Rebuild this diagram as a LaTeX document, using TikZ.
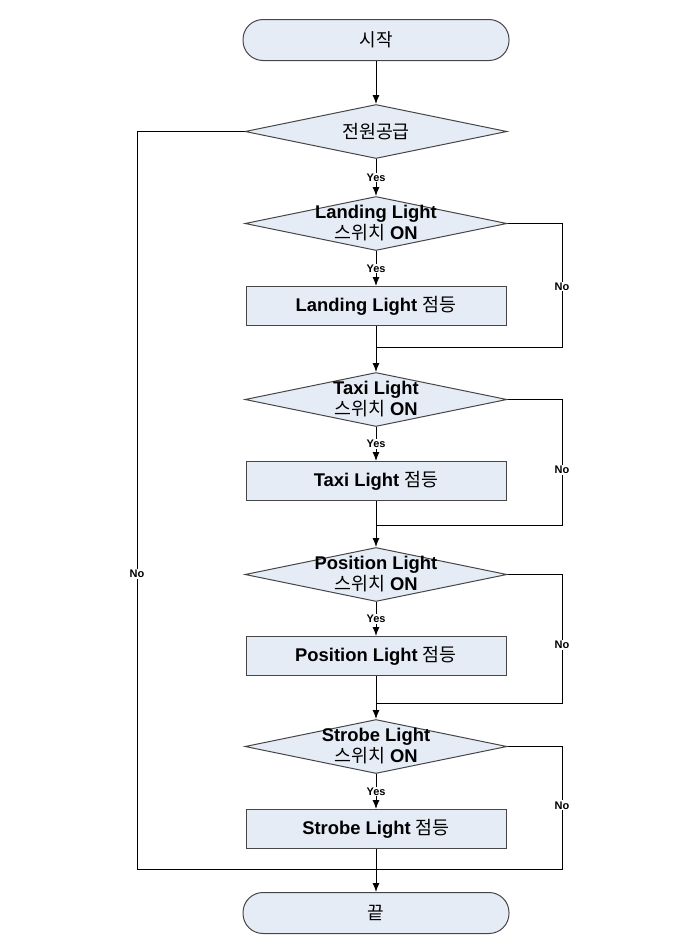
\documentclass[tikz,border=0pt]{standalone}
\usepackage{fontspec}
\setmainfont{Liberation Sans}
\newfontfamily\kr{Noto Sans CJK KR}
\usepackage{tikz}
\usetikzlibrary{positioning}
\usetikzlibrary{shapes,arrows.meta}
\definecolor{boxfill}{RGB}{230,236,246}
\definecolor{boxline}{RGB}{70,70,70}
\newcommand{\ko}[1]{{\kr\mdseries #1}}
\tikzstyle{terminal} = [rectangle, draw=boxline, fill=boxfill, 
    rounded corners=20pt, minimum width=266pt, minimum height=41pt, font=\kr\fontsize{18}{20}\selectfont]
\tikzstyle{decision} = [diamond, draw=boxline, fill=boxfill, 
    minimum width=262pt, minimum height=54pt, inner sep=0pt]
\tikzstyle{dtext} = [align=center, font=\bfseries\fontsize{18.4}{21}\selectfont]
\tikzstyle{block} = [rectangle, draw=boxline, fill=boxfill, 
    minimum width=260pt, minimum height=39pt, font=\bfseries\fontsize{18.4}{20}\selectfont]
\tikzstyle{line} = [draw, -{Latex[length=9pt,width=7pt]}]
\tikzstyle{loop} = [draw]
\tikzstyle{yes} = [fill=white, inner sep=1pt, font=\bfseries\fontsize{11}{12}\selectfont]

\begin{document}
\begin{tikzpicture}[line width=1pt]
        \useasboundingbox (0,0) rectangle (688pt,-946pt);
        % nodes
        \node [terminal] (start) at (376pt,-40pt) {시작};
        \node [decision, below=43pt of start, label={[dtext]center:\ko{전원공급}}] (power) {};
        \node [decision, below=37pt of power, label={[dtext]center:Landing Light\\\ko{스위치} ON}] (landing) {};
        \node [block, below=35pt of landing] (landon) {Landing Light \ko{점등}};
        \node [decision, below=46pt of landon, label={[dtext]center:Taxi Light\\\ko{스위치} ON}] (taxi) {};
        \node [block, below=34pt of taxi] (taxion) {Taxi Light \ko{점등}};
        \node [decision, below=46pt of taxion, label={[dtext]center:Position Light\\\ko{스위치} ON}] (pos) {};
        \node [block, below=34pt of pos] (poson) {Position Light \ko{점등}};
        \node [decision, below=43pt of poson, label={[dtext]center:Strobe Light\\\ko{스위치} ON}] (strobe) {};
        \node [block, below=35pt of strobe] (strobeon) {Strobe Light \ko{점등}};
        \node [terminal, below=43pt of strobeon] (stop) {끝};
        % junctions
        \coordinate [below=21pt of landon] (j1);
        \coordinate [below=24pt of taxion] (j2);
        \coordinate [below=27pt of poson] (j3);
        \coordinate [below=20pt of strobeon] (j4);
        % edges
        \path [line] (start) -- (power);
        \path [line] (power) --node[yes]{Yes}(landing);
        \path [line] (landing) --node[yes]{Yes}(landon);
        \path [line] (landon) -- (taxi);
        \path [line] (taxi) --node[yes]{Yes}(taxion);
        \path [line] (taxion) -- (pos);
        \path [line] (pos) --node[yes]{Yes}(poson);
        \path [line] (poson) -- (strobe);
        \path [line] (strobe) --node[yes]{Yes}(strobeon);
        \path [line] (strobeon) -- (stop);
        % no branches
        \path [loop] (landing.east) -| node[yes,pos=0.755]{No} ([xshift=186pt]j1) -- (j1);
        \path [loop] (taxi.east) -| node[yes,pos=0.78]{No} ([xshift=186pt]j2) -- (j2);
        \path [loop] (pos.east) -| node[yes,pos=0.775]{No} ([xshift=186pt]j3) -- (j3);
        \path [loop] (strobe.east) -| node[yes,pos=0.74]{No} ([xshift=186pt]j4) -- (j4);
        \path [loop] (power.west) -| node[yes,pos=0.8]{No} ([xshift=-239pt]j4) -- (j4);
    \end{tikzpicture}
\end{document}
